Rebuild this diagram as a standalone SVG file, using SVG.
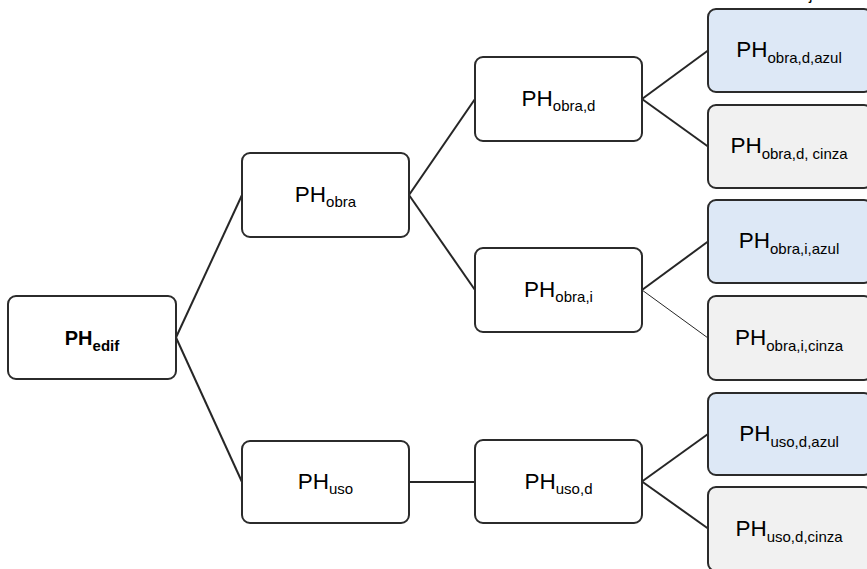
<svg xmlns="http://www.w3.org/2000/svg" width="867" height="569" viewBox="0 0 867 569">
<style>
.box{fill:#ffffff;stroke:#2b2b2b;stroke-width:2}
.azul{fill:#dde8f6;stroke:#2b2b2b;stroke-width:2}
.cinza{fill:#f1f1f1;stroke:#2b2b2b;stroke-width:2}
.lbl{font-family:"Liberation Sans",Arial,sans-serif;font-size:22.5px;fill:#000;text-anchor:middle}
.sub{font-size:15px}
.bold{font-weight:bold;font-size:20px}
.conn line{stroke:#262626;stroke-width:2;fill:none}
</style>
<rect width="867" height="569" fill="#ffffff"/>
<text id="cut_text" x="809" y="0" style="font-family:'Liberation Sans',Arial,sans-serif;font-size:16px;fill:#000">j</text>
<g id="connectors" class="conn">
<line x1="176" y1="337.5" x2="242" y2="195"/>
<line x1="176" y1="337.5" x2="242" y2="482"/>
<line x1="409" y1="195" x2="475" y2="99"/>
<line x1="409" y1="195" x2="475" y2="290"/>
<line x1="642" y1="99" x2="708" y2="50.5"/>
<line x1="642" y1="99" x2="708" y2="146.5"/>
<line x1="642" y1="290" x2="708" y2="241.5"/>
<line x1="642" y1="290" x2="708" y2="338" style="stroke-width:1"/>
<line x1="409" y1="482" x2="475" y2="482"/>
<line x1="642" y1="481.5" x2="708" y2="434"/>
<line x1="642" y1="481.5" x2="708" y2="528.5"/>
</g>
<g id="n_edif"><rect class="box" x="8" y="296" width="168" height="83" rx="8"/><text class="lbl bold" x="92" y="345">PH<tspan class="sub" dy="6">edif</tspan></text></g>
<g id="n_obra"><rect class="box" x="242" y="153" width="167" height="84" rx="8"/><text class="lbl" x="325.5" y="202">PH<tspan class="sub" dy="5">obra</tspan></text></g>
<g id="n_uso"><rect class="box" x="242" y="441" width="167" height="82" rx="8"/><text class="lbl" x="325.5" y="489">PH<tspan class="sub" dy="5">uso</tspan></text></g>
<g id="n_obra_d"><rect class="box" x="475" y="57" width="167" height="84" rx="8"/><text class="lbl" x="558.5" y="106">PH<tspan class="sub" dy="5">obra,d</tspan></text></g>
<g id="n_obra_i"><rect class="box" x="475" y="248" width="167" height="84" rx="8"/><text class="lbl" x="558.5" y="297">PH<tspan class="sub" dy="5">obra,i</tspan></text></g>
<g id="n_uso_d"><rect class="box" x="475" y="440" width="167" height="83" rx="8"/><text class="lbl" x="558.5" y="488.5">PH<tspan class="sub" dy="5">uso,d</tspan></text></g>
<g id="n_obra_d_azul"><rect class="azul" x="708" y="9" width="164" height="83" rx="8"/><text class="lbl" x="789" y="57">PH<tspan class="sub" dy="6">obra,d,azul</tspan></text></g>
<g id="n_obra_d_cinza"><rect class="cinza" x="708" y="105" width="164" height="83" rx="8"/><text class="lbl" x="789" y="153">PH<tspan class="sub" dy="6">obra,d, cinza</tspan></text></g>
<g id="n_obra_i_azul"><rect class="azul" x="708" y="200" width="164" height="83" rx="8"/><text class="lbl" x="789" y="248">PH<tspan class="sub" dy="6">obra,i,azul</tspan></text></g>
<g id="n_obra_i_cinza"><rect class="cinza" x="708" y="296" width="164" height="84" rx="8"/><text class="lbl" x="789" y="344.5">PH<tspan class="sub" dy="6">obra,i,cinza</tspan></text></g>
<g id="n_uso_d_azul"><rect class="azul" x="708" y="393" width="164" height="82" rx="8"/><text class="lbl" x="789" y="440.5">PH<tspan class="sub" dy="6">uso,d,azul</tspan></text></g>
<g id="n_uso_d_cinza"><rect class="cinza" x="708" y="487" width="164" height="84" rx="8"/><text class="lbl" x="789" y="535.5">PH<tspan class="sub" dy="6">uso,d,cinza</tspan></text></g>
</svg>
